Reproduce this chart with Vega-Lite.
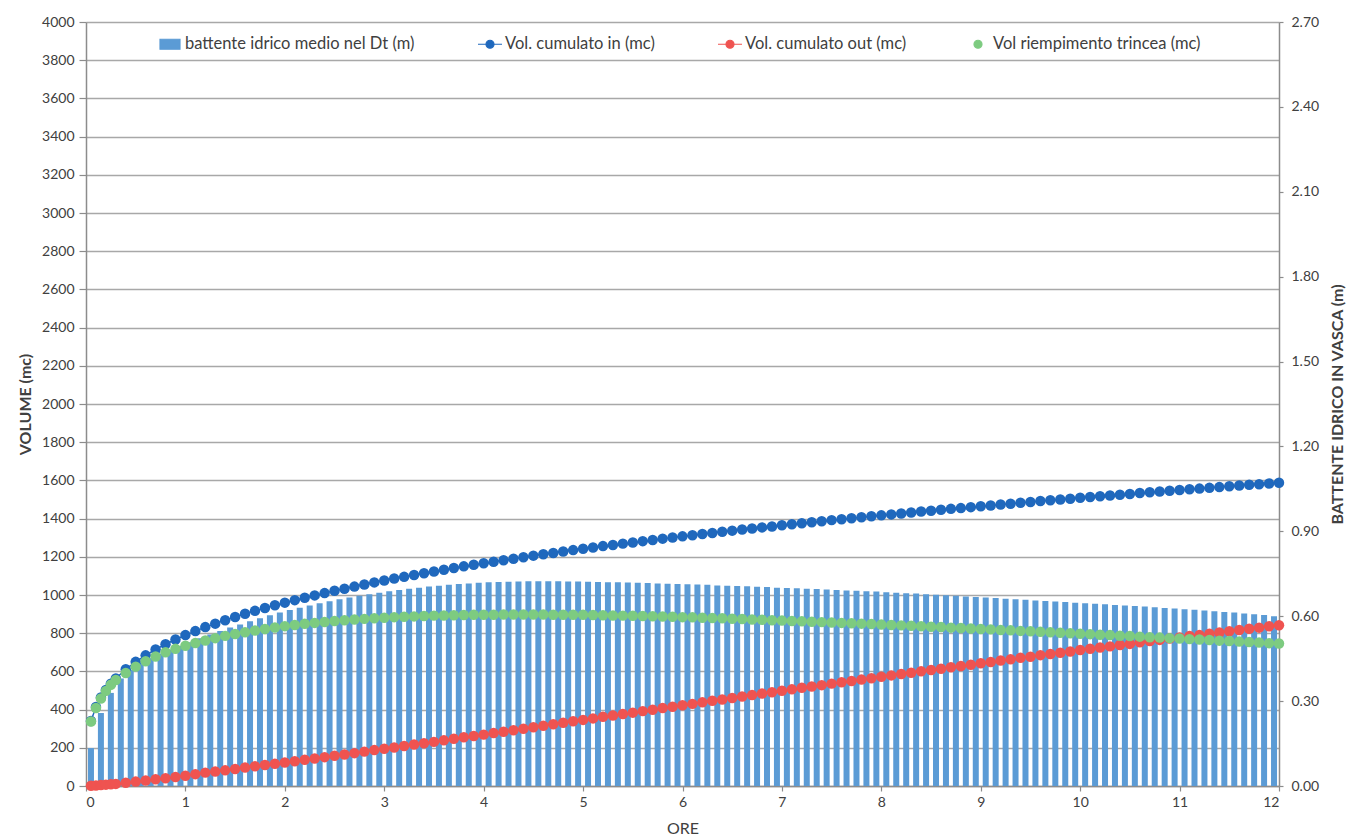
{
  "$schema": "https://vega.github.io/schema/vega-lite/v6.json",
  "width": 1193,
  "height": 764,
  "autosize": "none",
  "padding": {"left": 86, "top": 22, "right": 71, "bottom": 53},
  "background": "#ffffff",
  "config": {
    "view": {"stroke": null},
    "font": "Lato",
    "axis": {
      "labelFont": "Lato",
      "titleFont": "Lato",
      "labelColor": "#404040",
      "titleColor": "#404040",
      "domainColor": "#8c8c8c",
      "domainWidth": 1.5,
      "tickColor": "#8c8c8c",
      "tickWidth": 1.2,
      "gridColor": "#a8a8a8",
      "gridWidth": 1.6
    }
  },
  "datasets": {
    "battente": [
      {"ore":0.05,"battente":0.134},{"ore":0.15,"battente":0.258},{"ore":0.25,"battente":0.329},{"ore":0.35,"battente":0.380},{"ore":0.45,"battente":0.410},
      {"ore":0.55,"battente":0.435},{"ore":0.65,"battente":0.452},{"ore":0.75,"battente":0.468},{"ore":0.85,"battente":0.482},{"ore":0.95,"battente":0.495},
      {"ore":1.05,"battente":0.508},{"ore":1.15,"battente":0.522},{"ore":1.25,"battente":0.535},{"ore":1.35,"battente":0.548},{"ore":1.45,"battente":0.560},
      {"ore":1.55,"battente":0.571},{"ore":1.65,"battente":0.582},{"ore":1.75,"battente":0.593},{"ore":1.85,"battente":0.603},{"ore":1.95,"battente":0.613},
      {"ore":2.05,"battente":0.622},{"ore":2.15,"battente":0.630},{"ore":2.25,"battente":0.638},{"ore":2.35,"battente":0.646},{"ore":2.45,"battente":0.653},
      {"ore":2.55,"battente":0.660},{"ore":2.65,"battente":0.666},{"ore":2.75,"battente":0.672},{"ore":2.85,"battente":0.678},{"ore":2.95,"battente":0.683},
      {"ore":3.05,"battente":0.688},{"ore":3.15,"battente":0.693},{"ore":3.25,"battente":0.697},{"ore":3.35,"battente":0.701},{"ore":3.45,"battente":0.705},
      {"ore":3.55,"battente":0.708},{"ore":3.65,"battente":0.711},{"ore":3.75,"battente":0.714},{"ore":3.85,"battente":0.716},{"ore":3.95,"battente":0.718},
      {"ore":4.05,"battente":0.720},{"ore":4.15,"battente":0.721},{"ore":4.25,"battente":0.722},{"ore":4.35,"battente":0.723},{"ore":4.45,"battente":0.724},
      {"ore":4.55,"battente":0.724},{"ore":4.65,"battente":0.724},{"ore":4.75,"battente":0.724},{"ore":4.85,"battente":0.723},{"ore":4.95,"battente":0.723},
      {"ore":5.05,"battente":0.722},{"ore":5.15,"battente":0.721},{"ore":5.25,"battente":0.720},{"ore":5.35,"battente":0.720},{"ore":5.45,"battente":0.719},
      {"ore":5.55,"battente":0.718},{"ore":5.65,"battente":0.717},{"ore":5.75,"battente":0.716},{"ore":5.85,"battente":0.715},{"ore":5.95,"battente":0.714},
      {"ore":6.05,"battente":0.713},{"ore":6.15,"battente":0.712},{"ore":6.25,"battente":0.711},{"ore":6.35,"battente":0.709},{"ore":6.45,"battente":0.708},
      {"ore":6.55,"battente":0.707},{"ore":6.65,"battente":0.706},{"ore":6.75,"battente":0.704},{"ore":6.85,"battente":0.703},{"ore":6.95,"battente":0.701},
      {"ore":7.05,"battente":0.700},{"ore":7.15,"battente":0.699},{"ore":7.25,"battente":0.697},{"ore":7.35,"battente":0.696},{"ore":7.45,"battente":0.694},
      {"ore":7.55,"battente":0.693},{"ore":7.65,"battente":0.691},{"ore":7.75,"battente":0.690},{"ore":7.85,"battente":0.688},{"ore":7.95,"battente":0.687},
      {"ore":8.05,"battente":0.685},{"ore":8.15,"battente":0.683},{"ore":8.25,"battente":0.681},{"ore":8.35,"battente":0.680},{"ore":8.45,"battente":0.678},
      {"ore":8.55,"battente":0.676},{"ore":8.65,"battente":0.674},{"ore":8.75,"battente":0.672},{"ore":8.85,"battente":0.670},{"ore":8.95,"battente":0.668},
      {"ore":9.05,"battente":0.666},{"ore":9.15,"battente":0.664},{"ore":9.25,"battente":0.662},{"ore":9.35,"battente":0.660},{"ore":9.45,"battente":0.658},
      {"ore":9.55,"battente":0.656},{"ore":9.65,"battente":0.654},{"ore":9.75,"battente":0.652},{"ore":9.85,"battente":0.650},{"ore":9.95,"battente":0.648},
      {"ore":10.05,"battente":0.646},{"ore":10.15,"battente":0.644},{"ore":10.25,"battente":0.642},{"ore":10.35,"battente":0.640},{"ore":10.45,"battente":0.638},
      {"ore":10.55,"battente":0.636},{"ore":10.65,"battente":0.634},{"ore":10.75,"battente":0.632},{"ore":10.85,"battente":0.629},{"ore":10.95,"battente":0.627},
      {"ore":11.05,"battente":0.625},{"ore":11.15,"battente":0.623},{"ore":11.25,"battente":0.620},{"ore":11.35,"battente":0.618},{"ore":11.45,"battente":0.615},
      {"ore":11.55,"battente":0.613},{"ore":11.65,"battente":0.610},{"ore":11.75,"battente":0.607},{"ore":11.85,"battente":0.604},{"ore":11.95,"battente":0.600}
    ],
    "volumi": [
      {"ore":0.05,"vin":340,"vout":1,"vtr":338},{"ore":0.1,"vin":414,"vout":3,"vtr":408},{"ore":0.15,"vin":464,"vout":5,"vtr":458},
      {"ore":0.2,"vin":503,"vout":7,"vtr":498},{"ore":0.25,"vin":535,"vout":9,"vtr":530},{"ore":0.3,"vin":563,"vout":11,"vtr":555},
      {"ore":0.4,"vin":611,"vout":17,"vtr":592},{"ore":0.5,"vin":650,"vout":23,"vtr":625},{"ore":0.6,"vin":684,"vout":29,"vtr":653},
      {"ore":0.7,"vin":715,"vout":35,"vtr":678},{"ore":0.8,"vin":742,"vout":41,"vtr":700},{"ore":0.9,"vin":767,"vout":47,"vtr":718},
      {"ore":1.0,"vin":790,"vout":54,"vtr":734},{"ore":1.1,"vin":811,"vout":62,"vtr":749},{"ore":1.2,"vin":832,"vout":70,"vtr":762},
      {"ore":1.3,"vin":850,"vout":76,"vtr":774},{"ore":1.4,"vin":868,"vout":82,"vtr":786},{"ore":1.5,"vin":885,"vout":89,"vtr":796},
      {"ore":1.6,"vin":902,"vout":97,"vtr":805},{"ore":1.7,"vin":917,"vout":103,"vtr":814},{"ore":1.8,"vin":932,"vout":110,"vtr":822},
      {"ore":1.9,"vin":946,"vout":116,"vtr":830},{"ore":2.0,"vin":960,"vout":123,"vtr":837},{"ore":2.1,"vin":973,"vout":130,"vtr":843},
      {"ore":2.2,"vin":986,"vout":137,"vtr":849},{"ore":2.3,"vin":998,"vout":144,"vtr":854},{"ore":2.4,"vin":1010,"vout":151,"vtr":859},
      {"ore":2.5,"vin":1022,"vout":158,"vtr":864},{"ore":2.6,"vin":1033,"vout":165,"vtr":868},{"ore":2.7,"vin":1044,"vout":172,"vtr":872},
      {"ore":2.8,"vin":1055,"vout":180,"vtr":875},{"ore":2.9,"vin":1066,"vout":188,"vtr":878},{"ore":3.0,"vin":1076,"vout":195,"vtr":881},
      {"ore":3.1,"vin":1086,"vout":202,"vtr":884},{"ore":3.2,"vin":1095,"vout":209,"vtr":886},{"ore":3.3,"vin":1105,"vout":217,"vtr":888},
      {"ore":3.4,"vin":1114,"vout":224,"vtr":890},{"ore":3.5,"vin":1123,"vout":231,"vtr":892},{"ore":3.6,"vin":1132,"vout":239,"vtr":893},
      {"ore":3.7,"vin":1141,"vout":247,"vtr":894},{"ore":3.8,"vin":1150,"vout":255,"vtr":895},{"ore":3.9,"vin":1158,"vout":262,"vtr":896},
      {"ore":4.0,"vin":1166,"vout":269,"vtr":897},{"ore":4.1,"vin":1174,"vout":277,"vtr":897},{"ore":4.2,"vin":1182,"vout":284,"vtr":898},
      {"ore":4.3,"vin":1190,"vout":292,"vtr":898},{"ore":4.4,"vin":1198,"vout":300,"vtr":898},{"ore":4.5,"vin":1206,"vout":308,"vtr":898},
      {"ore":4.6,"vin":1213,"vout":315,"vtr":898},{"ore":4.7,"vin":1220,"vout":323,"vtr":897},{"ore":4.8,"vin":1228,"vout":331,"vtr":897},
      {"ore":4.9,"vin":1235,"vout":339,"vtr":896},{"ore":5.0,"vin":1242,"vout":346,"vtr":896},{"ore":5.1,"vin":1249,"vout":354,"vtr":895},
      {"ore":5.2,"vin":1256,"vout":362,"vtr":894},{"ore":5.3,"vin":1262,"vout":369,"vtr":893},{"ore":5.4,"vin":1269,"vout":377,"vtr":892},
      {"ore":5.5,"vin":1275,"vout":384,"vtr":891},{"ore":5.6,"vin":1282,"vout":392,"vtr":890},{"ore":5.7,"vin":1288,"vout":399,"vtr":889},
      {"ore":5.8,"vin":1295,"vout":408,"vtr":887},{"ore":5.9,"vin":1301,"vout":415,"vtr":886},{"ore":6.0,"vin":1307,"vout":423,"vtr":884},
      {"ore":6.1,"vin":1313,"vout":430,"vtr":883},{"ore":6.2,"vin":1319,"vout":438,"vtr":881},{"ore":6.3,"vin":1325,"vout":446,"vtr":879},
      {"ore":6.4,"vin":1331,"vout":453,"vtr":878},{"ore":6.5,"vin":1337,"vout":461,"vtr":876},{"ore":6.6,"vin":1343,"vout":469,"vtr":874},
      {"ore":6.7,"vin":1348,"vout":476,"vtr":872},{"ore":6.8,"vin":1354,"vout":484,"vtr":870},{"ore":6.9,"vin":1359,"vout":491,"vtr":868},
      {"ore":7.0,"vin":1365,"vout":499,"vtr":866},{"ore":7.1,"vin":1370,"vout":506,"vtr":864},{"ore":7.2,"vin":1376,"vout":514,"vtr":862},
      {"ore":7.3,"vin":1381,"vout":521,"vtr":860},{"ore":7.4,"vin":1386,"vout":528,"vtr":858},{"ore":7.5,"vin":1392,"vout":536,"vtr":856},
      {"ore":7.6,"vin":1397,"vout":543,"vtr":854},{"ore":7.7,"vin":1402,"vout":550,"vtr":852},{"ore":7.8,"vin":1407,"vout":557,"vtr":850},
      {"ore":7.9,"vin":1412,"vout":564,"vtr":848},{"ore":8.0,"vin":1417,"vout":572,"vtr":845},{"ore":8.1,"vin":1422,"vout":579,"vtr":843},
      {"ore":8.2,"vin":1427,"vout":586,"vtr":841},{"ore":8.3,"vin":1432,"vout":593,"vtr":839},{"ore":8.4,"vin":1437,"vout":601,"vtr":836},
      {"ore":8.5,"vin":1441,"vout":607,"vtr":834},{"ore":8.6,"vin":1446,"vout":614,"vtr":832},{"ore":8.7,"vin":1451,"vout":622,"vtr":829},
      {"ore":8.8,"vin":1455,"vout":628,"vtr":827},{"ore":8.9,"vin":1460,"vout":635,"vtr":825},{"ore":9.0,"vin":1465,"vout":643,"vtr":822},
      {"ore":9.1,"vin":1469,"vout":649,"vtr":820},{"ore":9.2,"vin":1474,"vout":657,"vtr":817},{"ore":9.3,"vin":1478,"vout":663,"vtr":815},
      {"ore":9.4,"vin":1483,"vout":671,"vtr":812},{"ore":9.5,"vin":1487,"vout":677,"vtr":810},{"ore":9.6,"vin":1492,"vout":685,"vtr":807},
      {"ore":9.7,"vin":1496,"vout":691,"vtr":805},{"ore":9.8,"vin":1500,"vout":698,"vtr":802},{"ore":9.9,"vin":1504,"vout":704,"vtr":800},
      {"ore":10.0,"vin":1509,"vout":712,"vtr":797},{"ore":10.1,"vin":1513,"vout":718,"vtr":795},{"ore":10.2,"vin":1517,"vout":725,"vtr":792},
      {"ore":10.3,"vin":1521,"vout":731,"vtr":790},{"ore":10.4,"vin":1525,"vout":738,"vtr":787},{"ore":10.5,"vin":1529,"vout":744,"vtr":785},
      {"ore":10.6,"vin":1534,"vout":752,"vtr":782},{"ore":10.7,"vin":1538,"vout":759,"vtr":779},{"ore":10.8,"vin":1542,"vout":765,"vtr":777},
      {"ore":10.9,"vin":1546,"vout":772,"vtr":774},{"ore":11.0,"vin":1550,"vout":778,"vtr":772},{"ore":11.1,"vin":1554,"vout":785,"vtr":769},
      {"ore":11.2,"vin":1557,"vout":790,"vtr":767},{"ore":11.3,"vin":1561,"vout":797,"vtr":764},{"ore":11.4,"vin":1565,"vout":804,"vtr":761},
      {"ore":11.5,"vin":1569,"vout":810,"vtr":759},{"ore":11.6,"vin":1573,"vout":817,"vtr":756},{"ore":11.7,"vin":1577,"vout":823,"vtr":754},
      {"ore":11.8,"vin":1580,"vout":829,"vtr":751},{"ore":11.9,"vin":1584,"vout":836,"vtr":748},{"ore":12.0,"vin":1588,"vout":842,"vtr":746}
    ]
  },
  "layer": [
    {
      "data": {"name": "battente"},
      "mark": {"type": "bar", "width": 6, "color": "#5B9BD5"},
      "encoding": {
        "x": {
          "field": "ore", "type": "quantitative",
          "scale": {"domain": [0, 12], "nice": false, "zero": false, "padding": 0},
          "axis": {
            "title": "ORE", "titleFontSize": 16, "titleFontWeight": "normal", "titlePadding": 11,
            "values": [0,1,2,3,4,5,6,7,8,9,10,11,12], "format": "d",
            "labelFontSize": 14, "labelPadding": 4, "tickSize": 5, "grid": false
          }
        },
        "y": {
          "field": "battente", "type": "quantitative",
          "scale": {"domain": [0, 2.7], "nice": false},
          "axis": {
            "orient": "right", "title": "BATTENTE IDRICO IN VASCA (m)", "titleAngle": -90,
            "titleFontSize": 16, "titleFontWeight": "bold", "titlePadding": 27,
            "values": [0, 0.3, 0.6, 0.9, 1.2, 1.5, 1.8, 2.1, 2.4, 2.7], "format": ".2f",
            "labelFontSize": 14, "labelPadding": 8, "tickSize": 4, "grid": false
          }
        },
        "color": {
          "datum": "battente idrico medio nel Dt (m)", "type": "nominal",
          "scale": {
            "domain": ["battente idrico medio nel Dt (m)", "Vol. cumulato in (mc)", "Vol. cumulato out (mc)", "Vol riempimento trincea (mc)"],
            "range": ["#5B9BD5", "#1F68BD", "#EF5350", "#7DCB80"]
          },
          "legend": {
            "orient": "none", "legendX": 73, "legendY": 11, "direction": "horizontal",
            "title": null, "labelFont": "Lato", "labelFontSize": 16.5, "labelColor": "#404040",
            "labelLimit": 0, "symbolSize": 400, "labelOffset": 4, "columnPadding": 60,
            "encode": {
              "symbols": {
                "update": {
                  "shape": {"signal": "datum.value === 'battente idrico medio nel Dt (m)' ? 'M-1,-0.5H1V0.5H-1Z' : (datum.value === 'Vol riempimento trincea (mc)' ? 'M0.4,0A0.4,0.4,0,1,1,-0.4,0A0.4,0.4,0,1,1,0.4,0Z' : 'M-1.2,0H1.2M0.4,0A0.4,0.4,0,1,1,-0.4,0A0.4,0.4,0,1,1,0.4,0Z')"},
                  "fill": {"scale": "color", "field": "value"},
                  "stroke": {"scale": "color", "field": "value"},
                  "strokeWidth": {"value": 1.2},
                  "size": {"value": 400},
                  "opacity": {"value": 1}
                }
              }
            }
          }
        }
      }
    },
    {
      "data": {"name": "volumi"},
      "encoding": {
        "x": {"field": "ore", "type": "quantitative"},
        "y": {
          "type": "quantitative",
          "scale": {"domain": [0, 4000], "nice": false},
          "axis": {
            "orient": "left", "title": "VOLUME (mc)", "titleFontSize": 16, "titleFontWeight": "bold",
            "titlePadding": 8, "values": [0,200,400,600,800,1000,1200,1400,1600,1800,2000,2200,2400,2600,2800,3000,3200,3400,3600,3800,4000],
            "format": "d", "labelFontSize": 14, "labelPadding": 5, "tickSize": 7, "grid": true
          }
        }
      },
      "layer": [
        {
          "mark": {"type": "line", "strokeWidth": 1.5, "point": {"filled": true, "size": 110, "opacity": 1}},
          "encoding": {"y": {"field": "vin"}, "color": {"datum": "Vol. cumulato in (mc)", "type": "nominal"}}
        },
        {
          "mark": {"type": "line", "strokeWidth": 1.5, "point": {"filled": true, "size": 110, "opacity": 1}},
          "encoding": {"y": {"field": "vout"}, "color": {"datum": "Vol. cumulato out (mc)", "type": "nominal"}}
        },
        {
          "mark": {"type": "point", "filled": true, "size": 110, "opacity": 1},
          "encoding": {"y": {"field": "vtr"}, "color": {"datum": "Vol riempimento trincea (mc)", "type": "nominal"}}
        }
      ]
    }
  ],
  "resolve": {"scale": {"y": "independent"}}
}
